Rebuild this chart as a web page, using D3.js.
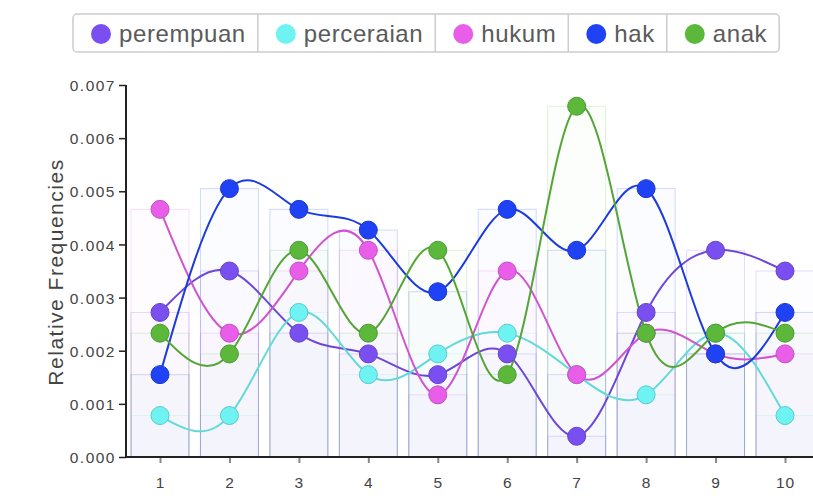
<!DOCTYPE html>
<html>
<head>
<meta charset="utf-8">
<script src="https://cdn.jsdelivr.net/npm/d3@7/dist/d3.min.js"></script>
<style>
  html, body { margin: 0; padding: 0; background: #fff; }
  svg { display: block; }
</style>
</head>
<body>
<svg id="chart" width="813" height="499"></svg>
<script>
const categories = ["1","2","3","4","5","6","7","8","9","10"];
const seriesNames = ["perempuan","perceraian","hukum","hak","anak"];
const seriesColors = ["#7a4ff0","#6ef2f2","#e85ee8","#1f42f5","#5cb83a"];
const perempuan  = [0.00272,0.00350,0.00233,0.00194,0.00155,0.00194,0.00039,0.00272,0.00389,0.00350];
const perceraian = [0.00078,0.00078,0.00272,0.00155,0.00194,0.00233,0.00155,0.00117,0.00233,0.00078];
const hukum      = [0.00466,0.00233,0.00350,0.00389,0.00117,0.00350,0.00155,0.00233,0.00194,0.00194];
const hak        = [0.00155,0.00505,0.00466,0.00427,0.00311,0.00466,0.00389,0.00505,0.00194,0.00272];
const anak       = [0.00233,0.00194,0.00389,0.00233,0.00389,0.00155,0.00660,0.00233,0.00233,0.00233];
const yTicks = [0,0.001,0.002,0.003,0.004,0.005,0.006,0.007];
const yTitle = "Relative Frequencies";

const seriesValues = [perempuan, perceraian, hukum, hak, anak];
const series = seriesNames.map((n,i)=>({name:n, color:seriesColors[i], values:seriesValues[i]}));

const svg = d3.select("#chart");
const axisX = 126, axisY = 457;
const x = d3.scalePoint().domain(categories).range([160, 785]);
const y = d3.scaleLinear().domain([0, 0.007]).range([axisY, 85]);
const barW = 58;
const FONT = "'Liberation Sans', Arial, Helvetica, sans-serif";

// bars
const barG = svg.append("g");
series.forEach(s => {
  barG.selectAll(null).data(s.values).enter().append("rect")
    .attr("x", (d,i) => x(categories[i]) - barW/2)
    .attr("y", d => y(d))
    .attr("width", barW)
    .attr("height", d => axisY - y(d))
    .attr("fill", s.color).attr("fill-opacity", 0.014)
    .attr("stroke", s.color).attr("stroke-opacity", 0.2).attr("stroke-width", 1);
});

// axes
const yAxis = d3.axisLeft(y).tickValues(yTicks).tickFormat(d3.format(".3f")).tickSize(7).tickPadding(3);
const gy = svg.append("g").attr("transform", `translate(${axisX},0)`).call(yAxis);
gy.select(".domain").attr("stroke", "#222").attr("stroke-width", 2).attr("d", `M0,${y(0.007)}V${axisY}`);
gy.selectAll(".tick line").attr("stroke", "#222").attr("stroke-width", 1.5);
gy.selectAll(".tick text").attr("fill", "#444").style("font-family", FONT)
  .style("font-size", "15.5px").style("letter-spacing", "1.5px").attr("dy", "0.36em");

const xAxis = d3.axisBottom(x).tickSize(6).tickPadding(14);
const gx = svg.append("g").attr("transform", `translate(0,${axisY})`).call(xAxis);
gx.select(".domain").attr("stroke", "#222").attr("stroke-width", 2).attr("d", `M${axisX},0H813`);
gx.selectAll(".tick line").attr("stroke", "#888").attr("stroke-width", 2).attr("y1", 1);
gx.selectAll(".tick text").attr("fill", "#444").style("font-family", FONT)
  .style("font-size", "15.5px").style("letter-spacing", "1px");

// y title
svg.append("text")
  .attr("transform", `translate(63,272) rotate(-90)`)
  .attr("text-anchor", "middle")
  .attr("fill", "#444")
  .style("font-family", FONT).style("font-size", "21px").style("letter-spacing", "1.5px")
  .text(yTitle);

// lines
const line = d3.line().x((d,i) => x(categories[i])).y(d => y(d)).curve(d3.curveNatural);
series.forEach(s => {
  svg.append("path").datum(s.values)
    .attr("d", line).attr("fill", "none")
    .attr("stroke", d3.color(s.color).darker(0.3)).attr("stroke-width", 2);
});
// points
series.forEach(s => {
  svg.append("g").selectAll("circle").data(s.values).enter().append("circle")
    .attr("cx", (d,i) => x(categories[i])).attr("cy", d => y(d)).attr("r", 9)
    .attr("fill", s.color).attr("stroke", d3.color(s.color).darker(0.5)).attr("stroke-width", 1);
});

// legend
const lg = svg.append("g");
const box = lg.append("rect").attr("x", 73).attr("y", 14).attr("height", 38).attr("rx", 4)
  .attr("fill", "#fff").attr("stroke", "#ccc").attr("stroke-width", 1.5);
let sx = 73;
const dividers = [];
series.forEach((s, i) => {
  lg.append("circle").attr("cx", sx + 28).attr("cy", 34).attr("r", 10).attr("fill", s.color);
  const t = lg.append("text").attr("x", sx + 46).attr("y", 42)
    .attr("fill", "#5a5a5a").style("font-family", FONT).style("font-size", "24px").style("letter-spacing", "0.6px")
    .text(s.name);
  const w = t.node().getComputedTextLength();
  sx = sx + 46 + w + 12;
  if (i < series.length - 1) dividers.push(sx);
});
box.attr("width", sx - 73);
dividers.forEach(dx => lg.append("line").attr("x1", dx).attr("x2", dx).attr("y1", 14).attr("y2", 52)
  .attr("stroke", "#ccc").attr("stroke-width", 1.5));
</script>
</body>
</html>
